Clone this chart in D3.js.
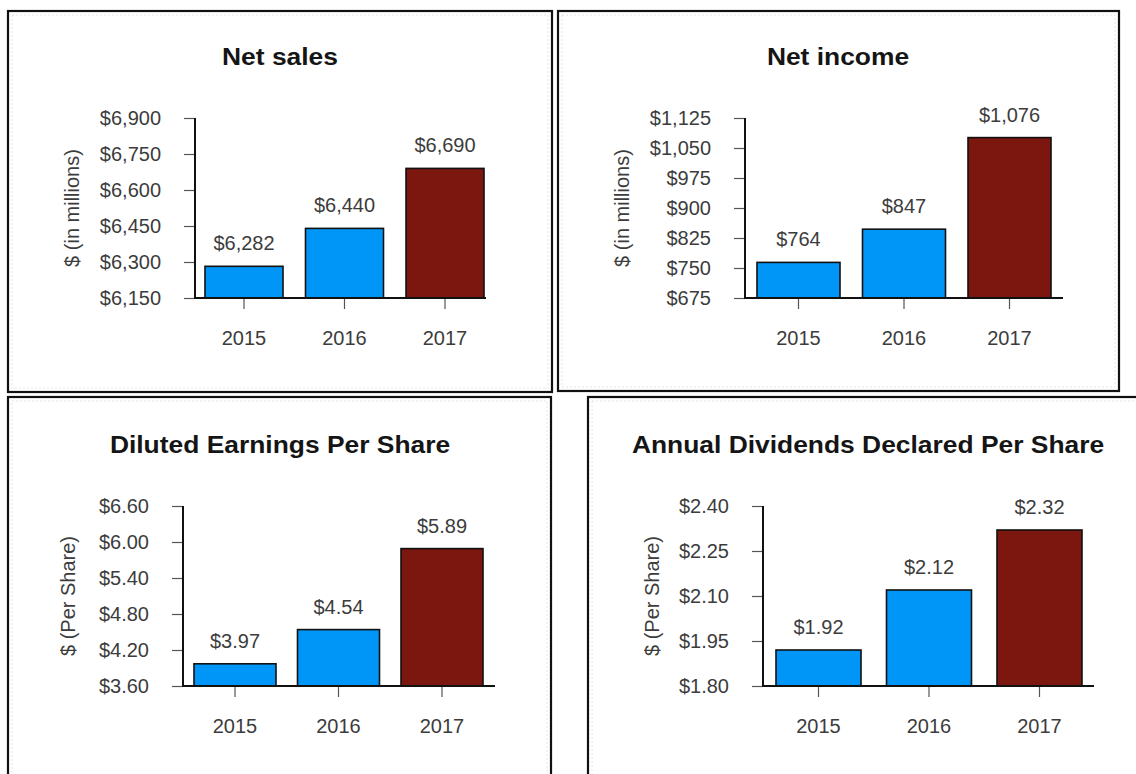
<!DOCTYPE html>
<html>
<head>
<meta charset="utf-8">
<script src="https://cdn.jsdelivr.net/npm/d3@7/dist/d3.min.js"></script>
<style>
  html, body { margin: 0; padding: 0; background: #fff; }
  svg { display: block; }
</style>
</head>
<body>
<svg id="chart" width="1136" height="774"></svg>
<script>
// ---------------- data ----------------
const years = ["2015", "2016", "2017"];
const netSales = [6282, 6440, 6690];
const netIncome = [764, 847, 1076];
const dilutedEPS = [3.97, 4.54, 5.89];
const dividends = [1.92, 2.12, 2.32];

const salesTicks = [6150, 6300, 6450, 6600, 6750, 6900];
const incomeTicks = [675, 750, 825, 900, 975, 1050, 1125];
const epsTicks = [3.60, 4.20, 4.80, 5.40, 6.00, 6.60];
const divTicks = [1.80, 1.95, 2.10, 2.25, 2.40];

const titles = ["Net sales", "Net income", "Diluted Earnings Per Share", "Annual Dividends Declared Per Share"];
const yTitles = ["$ (in millions)", "$ (in millions)", "$ (Per Share)", "$ (Per Share)"];

// ---------------- styles ----------------
const barColors = ["#0096f8", "#0096f8", "#7b170f"];
const fmtMillions = d3.format("$,.0f");
const fmtShare = d3.format("$.2f");

// ---------------- layout ----------------
const panels = [
  { values: netSales, ticks: salesTicks, fmt: fmtMillions, title: titles[0], yTitle: yTitles[0],
    border: [8, 11, 552, 392], axisX: 195, yTop: 118, yBot: 298, barStart: 205, barEnd: 484, barW: 78, axisEnd: 486,
    titleX: 280, titleY: 57, yTitleX: 72 },
  { values: netIncome, ticks: incomeTicks, fmt: fmtMillions, title: titles[1], yTitle: yTitles[1],
    border: [558, 11, 1119, 391], axisX: 745, yTop: 118, yBot: 298, barStart: 757, barEnd: 1051, barW: 83, axisEnd: 1063,
    titleX: 838, titleY: 57, yTitleX: 622 },
  { values: dilutedEPS, ticks: epsTicks, fmt: fmtShare, title: titles[2], yTitle: yTitles[2],
    border: [8, 397, 551, 800], axisX: 183, yTop: 506, yBot: 686, barStart: 194, barEnd: 483, barW: 82, axisEnd: 495,
    titleX: 280, titleY: 445, yTitleX: 68 },
  { values: dividends, ticks: divTicks, fmt: fmtShare, title: titles[3], yTitle: yTitles[3],
    border: [588, 397, 1160, 800], axisX: 763, yTop: 506, yBot: 686, barStart: 776, barEnd: 1082, barW: 85, axisEnd: 1094,
    titleX: 868, titleY: 445, yTitleX: 652 }
];

const svg = d3.select("#chart");
const FONT = "Liberation Sans, Arial, Helvetica, sans-serif";

panels.forEach(p => {
  const g = svg.append("g");

  // panel border
  const [bx0, by0, bx1, by1] = p.border;
  g.append("rect")
    .attr("x", bx0 + 4).attr("y", by0 + 4)
    .attr("width", bx1 - bx0 - 8).attr("height", by1 - by0 - 8)
    .attr("fill", "none").attr("stroke", "#e4e4e4").attr("stroke-width", 1)
    .attr("stroke-dasharray", "2,2");
  g.append("rect")
    .attr("x", bx0).attr("y", by0)
    .attr("width", bx1 - bx0).attr("height", by1 - by0)
    .attr("fill", "none").attr("stroke", "#111").attr("stroke-width", 2.2);

  // scales
  const n = years.length;
  const step = (p.barEnd - p.barStart - p.barW) / (n - 1);
  const pad = 1 - p.barW / step;
  const x = d3.scaleBand()
    .domain(years)
    .range([p.barStart - pad / 2 * step, p.barEnd + pad / 2 * step])
    .paddingInner(pad).paddingOuter(pad / 2);
  const y = d3.scaleLinear()
    .domain([p.ticks[0], p.ticks[p.ticks.length - 1]])
    .range([p.yBot, p.yTop]);

  // title
  g.append("text")
    .attr("transform", `translate(${p.titleX},${p.titleY}) scale(1.1,1)`)
    .attr("text-anchor", "middle").attr("dy", "0.35em")
    .attr("font-family", FONT).attr("font-weight", "bold").attr("font-size", 24)
    .attr("fill", "#151515")
    .text(p.title);

  // y axis title
  g.append("text")
    .attr("transform", `translate(${p.yTitleX},${(p.yTop + p.yBot) / 2}) rotate(-90)`)
    .attr("text-anchor", "middle").attr("dy", "0.35em")
    .attr("font-family", FONT).attr("font-size", 20)
    .attr("fill", "#3c3c3c")
    .text(p.yTitle);

  // bars
  g.selectAll("rect.bar")
    .data(p.values)
    .join("rect")
    .attr("class", "bar")
    .attr("x", (d, i) => x(years[i]))
    .attr("y", d => y(d))
    .attr("width", x.bandwidth())
    .attr("height", d => p.yBot - y(d))
    .attr("fill", (d, i) => barColors[i])
    .attr("stroke", "#111").attr("stroke-width", 1.6);

  // value labels
  g.selectAll("text.val")
    .data(p.values)
    .join("text")
    .attr("class", "val")
    .attr("x", (d, i) => x(years[i]) + x.bandwidth() / 2)
    .attr("y", d => y(d) - 16)
    .attr("text-anchor", "middle")
    .attr("font-family", FONT).attr("font-size", 20)
    .attr("fill", "#3c3c3c")
    .text(d => p.fmt(d));

  // y axis
  const yAxis = d3.axisLeft(y).tickValues(p.ticks).tickFormat(p.fmt).tickSize(11).tickPadding(23);
  const ya = g.append("g").attr("transform", `translate(${p.axisX},0)`).call(yAxis);
  ya.select(".domain").remove();
  ya.selectAll(".tick line").attr("stroke", "#555").attr("stroke-width", 1.2);
  ya.selectAll(".tick text")
    .attr("font-family", FONT).attr("font-size", 20).attr("fill", "#3c3c3c");
  g.append("line")
    .attr("x1", p.axisX).attr("x2", p.axisX)
    .attr("y1", p.yTop).attr("y2", p.yBot)
    .attr("stroke", "#111").attr("stroke-width", 2);

  // x axis
  const xAxis = d3.axisBottom(x).tickSize(11).tickPadding(22);
  const xa = g.append("g").attr("transform", `translate(0,${p.yBot})`).call(xAxis);
  xa.select(".domain").remove();
  xa.selectAll(".tick line").attr("stroke", "#555").attr("stroke-width", 1.2);
  xa.selectAll(".tick text")
    .attr("font-family", FONT).attr("font-size", 20).attr("fill", "#3c3c3c");
  g.append("line")
    .attr("x1", p.axisX - 1).attr("x2", p.axisEnd)
    .attr("y1", p.yBot).attr("y2", p.yBot)
    .attr("stroke", "#111").attr("stroke-width", 2);
});
</script>
</body>
</html>
